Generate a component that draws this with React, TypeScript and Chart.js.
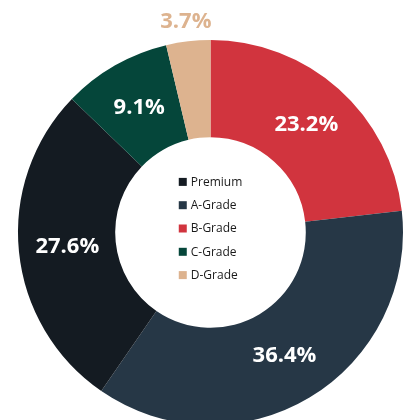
import React, { useEffect, useRef } from "react";
import { Chart, registerables } from "chart.js";

Chart.register(...registerables);

// Legend order
const categories = ["Premium", "A-Grade", "B-Grade", "C-Grade", "D-Grade"];
const shares = [27.6, 36.4, 23.2, 9.1, 3.7];
const colors = ["#141b22", "#263746", "#d1343e", "#05463a", "#ddb38f"];
// Order in which slices are drawn clockwise from the top
const drawOrder = ["B-Grade", "A-Grade", "Premium", "C-Grade", "D-Grade"];

const FONT = "'Open Sans', 'Noto Sans', sans-serif";

const labelPlugin = {
  id: "sliceLabels",
  afterDatasetsDraw(chart: any) {
    const ctx = chart.ctx;
    const meta = chart.getDatasetMeta(0);
    const data = chart.data.datasets[0].data as number[];
    const bg = chart.data.datasets[0].backgroundColor as string[];
    ctx.save();
    ctx.textAlign = "center";
    ctx.textBaseline = "middle";
    ctx.font = `bold 22px ${FONT}`;
    meta.data.forEach((arc: any, i: number) => {
      const { x, y, startAngle, endAngle, innerRadius, outerRadius } = arc.getProps(
        ["x", "y", "startAngle", "endAngle", "innerRadius", "outerRadius"],
        true
      );
      const mid = (startAngle + endAngle) / 2;
      const v = data[i];
      let r: number;
      if (v < 5) {
        r = outerRadius + 20;
        ctx.fillStyle = bg[i];
      } else {
        r = (innerRadius + outerRadius) / 2;
        ctx.fillStyle = "#ffffff";
      }
      ctx.fillText(v.toFixed(1) + "%", x + Math.cos(mid) * r, y + Math.sin(mid) * r);
    });
    ctx.restore();
  },
  afterDraw(chart: any) {
    const ctx = chart.ctx;
    const arc: any = chart.getDatasetMeta(0).data[0];
    if (!arc) return;
    const cx = arc.x;
    const cy = arc.y;
    const rowH = 23.3;
    const n = categories.length;
    ctx.save();
    ctx.font = `12px ${FONT}`;
    ctx.textBaseline = "middle";
    ctx.textAlign = "left";
    let maxW = 0;
    categories.forEach((c) => (maxW = Math.max(maxW, ctx.measureText(c).width)));
    const box = 8;
    const gap = 4;
    const totalW = box + gap + maxW;
    const x0 = cx - totalW / 2;
    categories.forEach((c, i) => {
      const yy = cy - ((n - 1) / 2) * rowH + i * rowH - 4;
      ctx.fillStyle = colors[i];
      ctx.fillRect(x0, yy - box / 2, box, box);
      ctx.fillStyle = "#1a1a1a";
      ctx.fillText(c, x0 + box + gap, yy + 0.5);
    });
    ctx.restore();
  },
};

export default function App() {
  const ref = useRef<HTMLCanvasElement | null>(null);
  useEffect(() => {
    if (!ref.current) return;
    const values = drawOrder.map((c) => shares[categories.indexOf(c)]);
    const cols = drawOrder.map((c) => colors[categories.indexOf(c)]);
    const chart = new Chart(ref.current, {
      type: "doughnut",
      data: {
        labels: drawOrder,
        datasets: [
          {
            data: values,
            backgroundColor: cols,
            borderWidth: 0,
            hoverOffset: 0,
            offset: 0,
          },
        ],
      },
      options: {
        responsive: false,
        animation: false,
        cutout: "49.5%",
        layout: { padding: { left: 18, right: 5, top: 40, bottom: 5 } },
        plugins: {
          legend: { display: false },
          tooltip: { enabled: false },
        },
      },
      plugins: [labelPlugin],
    });
    return () => chart.destroy();
  }, []);
  return (
    <div
      style={{
        position: "fixed",
        left: 0,
        top: 0,
        width: 408,
        height: 420,
        overflow: "hidden",
        background: "#fff",
      }}
    >
      <canvas ref={ref} width={408} height={430} style={{ display: "block" }} />
    </div>
  );
}
